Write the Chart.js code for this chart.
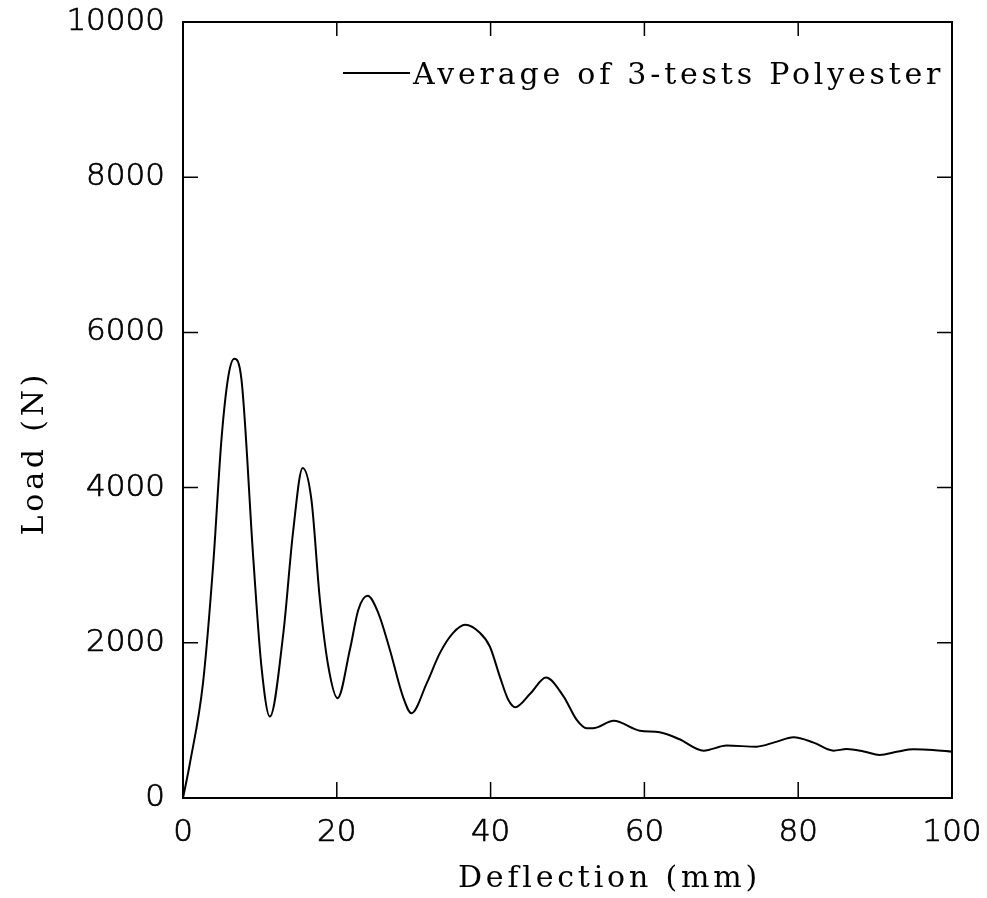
<!DOCTYPE html>
<html><head><meta charset="utf-8">
<script src="https://cdn.jsdelivr.net/npm/chart.js@4.4.0/dist/chart.umd.min.js"></script>
<style>html,body{margin:0;padding:0;background:#fff}#wrap{width:987px;height:898px}</style>
</head><body><div id="wrap"><canvas id="c" width="987" height="898"></canvas></div>
<script>
const deflection = [0, 0.9, 2.6, 3.94, 5.0, 5.9, 6.67, 7.6, 9.15, 10.2, 11.3, 13.05, 14.3, 15.56, 16.7, 17.8, 18.9, 20.1, 21.7, 22.8, 24.0, 25.4, 26.9, 28.6, 29.7, 31.7, 33.4, 35.1, 36.7, 38.6, 39.9, 41.2, 42.3, 43.2, 45.2, 47.2, 49.5, 51.2, 52.5, 53.3, 56.0, 59.4, 62.0, 64.5, 67.7, 70.7, 74.6, 77.0, 79.4, 82.0, 84.6, 86.3, 88.5, 90.6, 93.0, 95.0, 97.5, 100];
const load = [0, 448, 1480, 3028, 4619, 5436, 5660, 5394, 3071, 1694, 1049, 2125, 3415, 4254, 3845, 2555, 1694, 1286, 1910, 2426, 2606, 2383, 1910, 1307, 1093, 1480, 1867, 2125, 2232, 2129, 1952, 1565, 1265, 1170, 1350, 1553, 1307, 1006, 899, 899, 994, 868, 848, 760, 610, 675, 662, 720, 783, 714, 610, 630, 600, 555, 600, 628, 620, 597];
const xTicks = [0, 20, 40, 60, 80, 100];
const yTicks = [0, 2000, 4000, 6000, 8000, 10000];
const seriesLabel = 'Average of 3-tests Polyester';
const xTitle = 'Deflection (mm)';
const yTitle = 'Load (N)';

const points = deflection.map((d, i) => ({x: d, y: load[i]}));
const serif = '30px "DejaVu Serif"';
const spacing = 3.8;

const frame = {
  id: 'frame',
  afterDraw(chart) {
    const {ctx, chartArea: a, scales: {x, y}} = chart;
    ctx.save();
    ctx.strokeStyle = '#000';
    ctx.lineWidth = 2;
    ctx.strokeRect(a.left, a.top, a.right - a.left, a.bottom - a.top);
    ctx.lineWidth = 1.5;
    ctx.beginPath();
    xTicks.forEach(v => {
      const px = x.getPixelForValue(v);
      ctx.moveTo(px, a.bottom); ctx.lineTo(px, a.bottom - 16);
      ctx.moveTo(px, a.top); ctx.lineTo(px, a.top + 14);
    });
    yTicks.forEach(v => {
      const py = y.getPixelForValue(v);
      ctx.moveTo(a.left, py); ctx.lineTo(a.left + 15, py);
      ctx.moveTo(a.right, py); ctx.lineTo(a.right - 15, py);
    });
    ctx.stroke();

    ctx.fillStyle = '#000';
    ctx.font = serif;
    ctx.letterSpacing = spacing + 'px';
    ctx.textAlign = 'left';
    ctx.textBaseline = 'alphabetic';
    ctx.fillText(xTitle, 458, 887);

    ctx.save();
    ctx.translate(43, 455);
    ctx.rotate(-Math.PI / 2);
    const w = ctx.measureText(yTitle).width - spacing;
    ctx.fillText(yTitle, -w / 2, 0);
    ctx.restore();

    ctx.lineWidth = 2;
    ctx.beginPath();
    ctx.moveTo(343, 73); ctx.lineTo(410, 73);
    ctx.stroke();
    ctx.fillText(seriesLabel, 413, 84);
    ctx.restore();
  }
};

const tickFont = { family: 'DejaVu Sans', size: 31, weight: 200 };

new Chart(document.getElementById('c'), {
  type: 'line',
  data: { datasets: [{
    label: seriesLabel,
    data: points,
    borderColor: '#000',
    backgroundColor: '#000',
    borderWidth: 2,
    pointRadius: 0,
    cubicInterpolationMode: 'monotone',
    fill: false
  }]},
  options: {
    responsive: false,
    animation: false,
    layout: { padding: { top: 22, right: 35, left: 0, bottom: 0 } },
    plugins: {
      legend: { display: false },
      tooltip: { enabled: false }
    },
    scales: {
      x: {
        type: 'linear', min: 0, max: 100,
        afterBuildTicks: s => { s.ticks = xTicks.map(v => ({value: v})); },
        afterFit: s => { s.height = 100; s.paddingLeft = 0; s.paddingRight = 0; },
        grid: { display: false, drawTicks: false },
        border: { display: false },
        ticks: { color: '#000', padding: 16, maxRotation: 0, font: tickFont, textStrokeColor: '#000', textStrokeWidth: 0.7 },
        title: { display: false }
      },
      y: {
        type: 'linear', min: 0, max: 10000,
        afterBuildTicks: s => { s.ticks = yTicks.map(v => ({value: v})); },
        afterFit: s => { s.width = 183; s.paddingTop = 0; s.paddingBottom = 0; },
        grid: { display: false, drawTicks: false },
        border: { display: false },
        ticks: { color: '#000', padding: 18, font: tickFont, textStrokeColor: '#000', textStrokeWidth: 0.7, callback: v => String(v) },
        title: { display: false }
      }
    }
  },
  plugins: [frame]
});
</script></body></html>
